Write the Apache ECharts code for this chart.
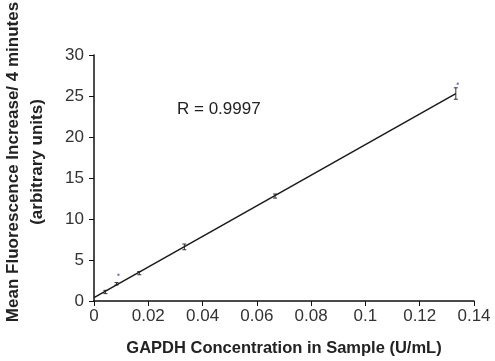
<!DOCTYPE html>
<html>
<head>
<meta charset="utf-8">
<script src="https://cdn.jsdelivr.net/npm/echarts@6/dist/echarts.min.js"></script>
<style>
  html, body { margin: 0; padding: 0; background: #fff; }
  #main { width: 495px; height: 361px; }
</style>
</head>
<body>
<div id="main"></div>
<script>
// measured points (concentration U/mL, mean fluorescence increase, error)
const concentrations = [0.0042, 0.0083, 0.0167, 0.0333, 0.0667, 0.1333];
const meanValues = [1.1, 2.1, 3.4, 6.6, 12.8, 25.3];
const errors = [0.2, 0.15, 0.2, 0.35, 0.25, 0.7];

// fitted line endpoints
const fitX = [0, 0.1333];
const fitY = [0.4, 25.3];

// stray marks
const strayX = [0.0090, 0.1340];
const strayY = [3.2, 26.5];

const chart = echarts.init(document.getElementById('main'));

const errData = concentrations.map((c, i) => [c, meanValues[i] - errors[i], meanValues[i] + errors[i]]);

const option = {
  animation: false,
  grid: { left: 94, right: 21, top: 55, bottom: 60, containLabel: false, outerBoundsMode: 'none' },
  xAxis: {
    type: 'value', min: 0, max: 0.14, interval: 0.02,
    name: 'GAPDH Concentration in Sample (U/mL)',
    nameLocation: 'middle', nameGap: 39,
    nameTextStyle: { fontFamily: 'Liberation Sans', fontWeight: 'bold', fontSize: 16.5, color: '#222' },
    axisLine: { lineStyle: { color: '#111', width: 1.5 } },
    axisTick: { inside: false, length: 5, lineStyle: { color: '#111' } },
    axisLabel: { fontFamily: 'Liberation Sans', fontSize: 17, color: '#333', margin: 7 },
    splitLine: { show: false }
  },
  yAxis: {
    type: 'value', min: 0, max: 30, interval: 5,
    name: 'Mean Fluorescence Increase/ 4 minutes\n(arbitrary units)',
    nameLocation: 'middle', nameGap: 45, nameRotate: 90,
    nameTextStyle: { fontFamily: 'Liberation Sans', fontWeight: 'bold', fontSize: 17, color: '#222', lineHeight: 24, align: 'center', padding: [0, 0, 0, 32] },
    axisLine: { show: true, lineStyle: { color: '#111', width: 1.5 } },
    axisTick: { show: true, length: 5, lineStyle: { color: '#111' } },
    axisLabel: { fontFamily: 'Liberation Sans', fontSize: 17, color: '#333', margin: 10 },
    splitLine: { show: false }
  },
  series: [
    {
      type: 'line',
      data: fitX.map((x, i) => [x, fitY[i]]),
      showSymbol: false,
      lineStyle: { color: '#1a1a1a', width: 1.5 },
      silent: true
    },
    {
      type: 'custom',
      data: errData,
      renderItem(params, api) {
        const x = api.value(0);
        const lo = api.coord([x, api.value(1)]);
        const hi = api.coord([x, api.value(2)]);
        const w = 2;
        return {
          type: 'group',
          children: [
            { type: 'line', shape: { x1: lo[0], y1: lo[1], x2: hi[0], y2: hi[1] }, style: { stroke: '#333', lineWidth: 1 } },
            { type: 'line', shape: { x1: lo[0] - w, y1: lo[1], x2: lo[0] + w, y2: lo[1] }, style: { stroke: '#333', lineWidth: 1 } },
            { type: 'line', shape: { x1: hi[0] - w, y1: hi[1], x2: hi[0] + w, y2: hi[1] }, style: { stroke: '#333', lineWidth: 1 } }
          ]
        };
      }
    },
    {
      type: 'scatter',
      data: strayX.map((x, i) => [x, strayY[i]]),
      symbol: 'rect', symbolSize: 2,
      itemStyle: { color: '#3b3bb0' }
    }
  ],
  graphic: [
    {
      type: 'text', left: 177, top: 101,
      style: { text: 'R = 0.9997', fontFamily: 'Liberation Sans', fontSize: 17, fill: '#222' }
    }
  ]
};

chart.setOption(option);
</script>
</body>
</html>
